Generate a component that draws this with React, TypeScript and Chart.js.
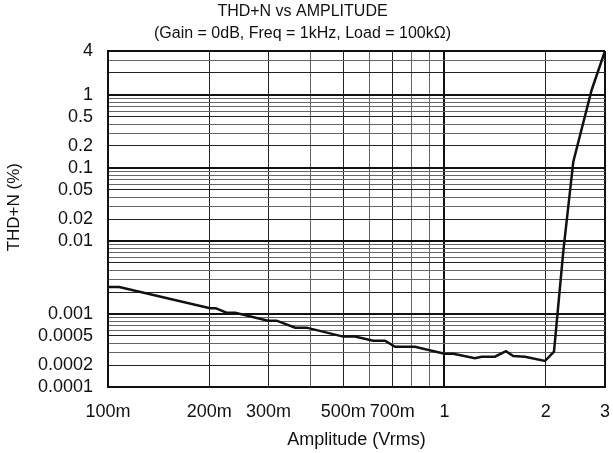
import React, { useEffect, useRef } from "react";
import { Chart, registerables } from "chart.js";

Chart.register(...registerables);

const TITLE_LINES = ["THD+N vs AMPLITUDE", "(Gain = 0dB, Freq = 1kHz, Load = 100k\u03A9)"];
const X_TITLE = "Amplitude (Vrms)";
const Y_TITLE = "     THD+N (%)";

const AMPLITUDE = [
  0.1, 0.108, 0.201, 0.209, 0.225, 0.239, 0.299, 0.317, 0.36, 0.389, 0.5, 0.542, 0.614, 0.666,
  0.713, 0.817, 1.0, 1.062, 1.232, 1.29, 1.413, 1.523, 1.601, 1.735, 1.989, 2.116, 2.257, 2.415,
  2.738, 3.0,
];
const THD = [
  0.00234, 0.00234, 0.0012, 0.0012, 0.00104, 0.00104, 0.00081, 0.00081, 0.00065, 0.00065, 0.00049,
  0.00049, 0.00043, 0.00043, 0.000356, 0.000356, 0.000286, 0.000286, 0.000247, 0.00026, 0.00026,
  0.00031, 0.000266, 0.00026, 0.000227, 0.000305, 0.0075, 0.122, 1.17, 4,
];

const X_GRID = [0.1, 0.2, 0.3, 0.4, 0.5, 0.6, 0.7, 0.8, 0.9, 1, 2, 3];
const X_TICK_VALUES = [0.1, 0.2, 0.3, 0.5, 0.7, 1, 2, 3];
const X_TICK_LABELS = ["100m", "200m", "300m", "500m", "700m", "1", "2", "3"];

const Y_DECADES = [0.0001, 0.001, 0.01, 0.1, 1];
const Y_MULTIPLIERS = [1, 2, 3, 4, 5, 6, 7, 8, 9];
const Y_MAX = 4;
const Y_TICK_VALUES = [0.0001, 0.0002, 0.0005, 0.001, 0.01, 0.02, 0.05, 0.1, 0.2, 0.5, 1, 4];
const Y_TICK_LABELS = ["0.0001", "0.0002", "0.0005", "0.001", "0.01", "0.02", "0.05", "0.1", "0.2", "0.5", "1", "4"];

const FONT = "'Liberation Sans', Arial, Helvetica, sans-serif";

const same = (a: number, b: number) => Math.abs(a - b) <= Math.abs(b) * 1e-6;
const idxOf = (arr: number[], v: number) => arr.findIndex((a) => same(a, v));

const yGridValues = (): number[] => {
  const out: number[] = [];
  Y_DECADES.forEach((d) => {
    Y_MULTIPLIERS.forEach((m) => {
      const v = parseFloat((d * m).toPrecision(6));
      if (v <= Y_MAX + 1e-9) out.push(v);
    });
  });
  return out;
};

export default function App() {
  const ref = useRef<HTMLCanvasElement | null>(null);

  useEffect(() => {
    if (!ref.current) return;
    const chart = new Chart(ref.current, {
      type: "line",
      data: {
        datasets: [
          {
            data: AMPLITUDE.map((x, i) => ({ x, y: THD[i] })),
            borderColor: "#111",
            borderWidth: 2.5,
            pointRadius: 0,
            tension: 0,
            fill: false,
          },
        ],
      },
      options: {
        animation: false,
        responsive: false,
        layout: { padding: { left: 0, right: 8, top: 0, bottom: 0 } },
        plugins: {
          legend: { display: false },
          tooltip: { enabled: false },
          title: {
            display: true,
            text: TITLE_LINES,
            color: "#111",
            font: { family: FONT, size: 16, weight: "normal", lineHeight: 1.375 },
            padding: { top: 1, bottom: 6 },
          },
        },
        scales: {
          x: {
            type: "logarithmic",
            min: 0.1,
            max: 3,
            afterBuildTicks: (scale: any) => {
              scale.ticks = X_GRID.map((v) => ({ value: v }));
            },
            afterFit: (scale: any) => {
              scale.height = 66;
              scale.paddingLeft = 0;
              scale.paddingRight = 0;
            },
            ticks: {
              autoSkip: false,
              maxRotation: 0,
              minRotation: 0,
              padding: 14,
              color: "#111",
              font: { family: FONT, size: 18 },
              callback: (v: any) => {
                const i = idxOf(X_TICK_VALUES, Number(v));
                return i >= 0 ? X_TICK_LABELS[i] : "";
              },
            },
            grid: {
              drawTicks: false,
              color: (ctx: any) => {
                const v = ctx.tick?.value;
                if (v === undefined) return "#666";
                if (same(v, 1) || same(v, 3)) return "#111";
                if (idxOf(X_TICK_VALUES, v) >= 0) return "#222";
                return "#666";
              },
              lineWidth: (ctx: any) => {
                const v = ctx.tick?.value;
                if (v !== undefined && (same(v, 1) || same(v, 3))) return 2;
                return 1;
              },
            },
            border: { color: "#111", width: 2 },
            title: {
              display: true,
              text: X_TITLE,
              color: "#111",
              font: { family: FONT, size: 18 },
              padding: { top: 4, bottom: 2 },
            },
          },
          y: {
            type: "logarithmic",
            min: 0.0001,
            max: Y_MAX,
            afterBuildTicks: (scale: any) => {
              scale.ticks = yGridValues().map((v) => ({ value: v }));
            },
            afterFit: (scale: any) => {
              scale.width = 108;
              scale.paddingTop = 0;
              scale.paddingBottom = 0;
            },
            ticks: {
              autoSkip: false,
              padding: 15,
              color: "#111",
              font: { family: FONT, size: 18 },
              callback: (v: any) => {
                const i = idxOf(Y_TICK_VALUES, Number(v));
                return i >= 0 ? Y_TICK_LABELS[i] : "";
              },
            },
            grid: {
              drawTicks: false,
              color: (ctx: any) => {
                const v = ctx.tick?.value;
                if (v === undefined) return "#666";
                if (idxOf(Y_DECADES, v) >= 0 || same(v, Y_MAX)) return "#111";
                const m = Math.round(v / Math.pow(10, Math.floor(Math.log10(v) + 1e-9)));
                if (m === 2 || m === 5) return "#222";
                return "#666";
              },
              lineWidth: (ctx: any) => {
                const v = ctx.tick?.value;
                if (v !== undefined && (idxOf(Y_DECADES, v) >= 0 || same(v, Y_MAX))) return 2;
                return 1;
              },
            },
            border: { color: "#111", width: 2 },
            title: {
              display: true,
              text: Y_TITLE,
              color: "#111",
              font: { family: FONT, size: 17 },
              padding: { top: 4, bottom: 4 },
            },
          },
        },
      },
    } as any);
    return () => chart.destroy();
  }, []);

  return (
    <div style={{ position: "absolute", left: 0, top: 0, width: 613, height: 453, background: "#fff" }}>
      <canvas ref={ref} width={613} height={453} />
    </div>
  );
}
